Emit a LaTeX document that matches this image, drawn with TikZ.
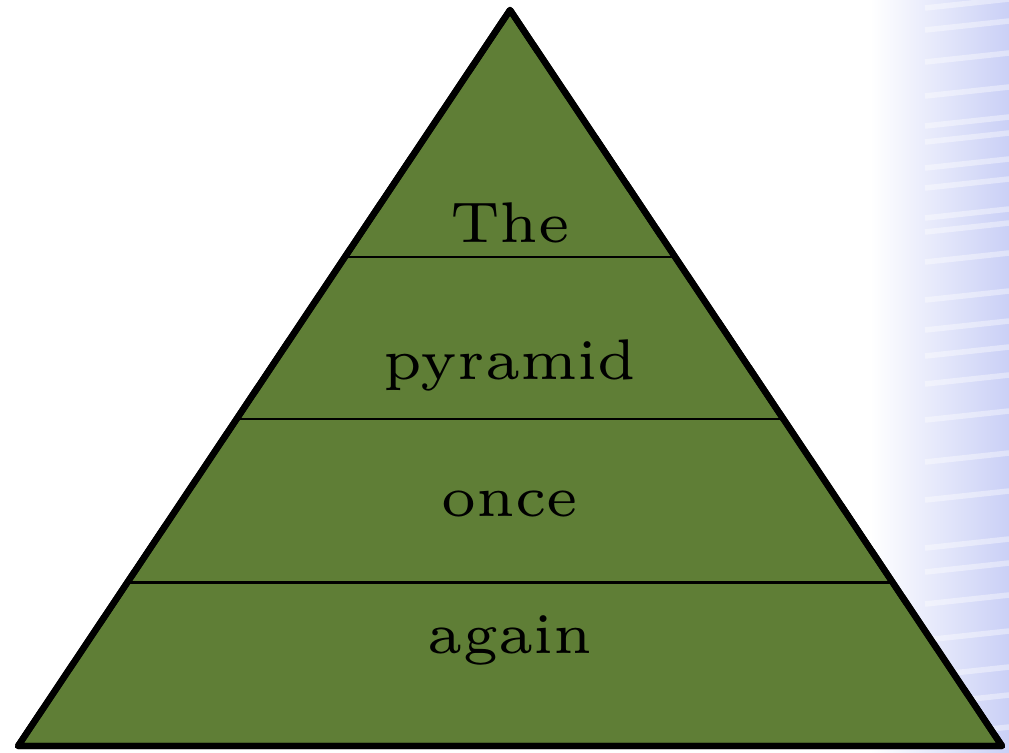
\documentclass[tikz,border=0pt]{standalone}
\usepackage{tikz}
\usetikzlibrary{calc}
\definecolor{pyrgreen}{RGB}{95,126,54}
\definecolor{bgblue}{RGB}{202,208,246}

\begin{document}
\begin{tikzpicture}[
  x=0.18pt,y=-0.18pt,
  outline/.style={draw=black,line width=1.15pt,line join=round,fill=pyrgreen},
  band/.style={draw=black,line width=0.4pt},
  word/.style={font=\fontsize{6}{7}\selectfont,scale=1.72,anchor=base,inner sep=0pt},
  streak/.style={draw=white,line width=1pt,opacity=0.4}
]
\useasboundingbox (0,0) rectangle (1009,752);
\shade[left color=white,right color=bgblue] (870,0) rectangle (1009,752);
\foreach \y in {8,30,62,96,126,142,168,188,218,232,262,300,330,356,384,420,462,500,548,572,604,640,676,704,736}
  \draw[streak] (925,\y) -- (1009,\y-9);
\coordinate (top) at (510,10);
\coordinate (bl) at (18,746);
\coordinate (br) at (1002,746);
\draw[outline] (bl) -- (top) -- (br) -- cycle;
\draw[band] ($(bl)!2/9!(top)$) -- ($(br)!2/9!(top)$);
\draw[band] ($(bl)!4/9!(top)$) -- ($(br)!4/9!(top)$);
\draw[band] ($(bl)!0.664!(top)$) -- ($(br)!0.664!(top)$);
\draw[outline,fill=none] (bl) -- (top) -- (br) -- cycle;
\node[word] (the) at (510,242) {The};
\node[word] (pyramid) at (510,379) {pyramid};
\node[word] (once) at (510,516) {once};
\node[word] (again) at (510,653) {again};
\end{tikzpicture}
\end{document}
